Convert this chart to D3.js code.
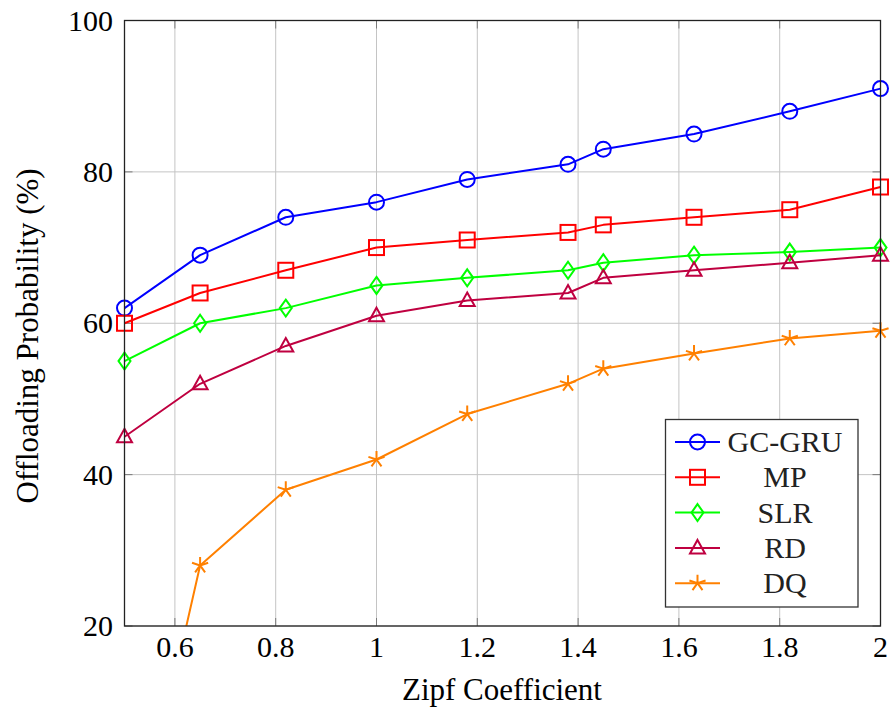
<!DOCTYPE html>
<html>
<head>
<meta charset="utf-8">
<script src="https://cdn.jsdelivr.net/npm/d3@7"></script>
</head>
<body style="margin:0">
<svg id="chart" width="891" height="709"></svg>
<script>
// values
const zipf = [0.5, 0.65, 0.82, 1, 1.18, 1.38, 1.45, 1.63, 1.82, 2];
const gcGru = [62, 69, 74, 76, 79, 81, 83, 85, 88, 91];
const mp = [60, 64, 67, 70, 71, 72, 73, 74, 75, 78];
const slr = [55, 60, 62, 65, 66, 67, 68, 69, 69.4, 70];
const rd = [45, 52, 57, 61, 63, 64, 66, 67, 68, 69];
const dq = [-16, 28, 38, 42, 48, 52, 54, 56, 58, 59];

const xTicks = [0.6, 0.8, 1, 1.2, 1.4, 1.6, 1.8, 2];
const yTicks = [20, 40, 60, 80, 100];

const seriesNames = ["GC-GRU", "MP", "SLR", "RD", "DQ"];
const seriesValues = [gcGru, mp, slr, rd, dq];
const seriesColors = ["#0000ff", "#ff0000", "#00ff00", "#bf0040", "#ff8000"];
const seriesMarks = ["circle", "square", "diamond", "triangle", "star"];

const svg = d3.select("#chart");

// plot area
const margin = { left: 124.5, right: 10.5, top: 20.5, bottom: 83 };
const width = 891, height = 709;
const innerW = width - margin.left - margin.right;
const innerH = height - margin.top - margin.bottom;

const x = d3.scaleLinear().domain([0.5, 2]).range([margin.left, margin.left + innerW]);
const y = d3.scaleLinear().domain([20, 100]).range([margin.top + innerH, margin.top]);

svg.append("defs").append("clipPath").attr("id", "plotclip")
   .append("rect")
   .attr("x", margin.left).attr("y", margin.top)
   .attr("width", innerW).attr("height", innerH);

// grid
const grid = svg.append("g").attr("stroke", "#c4c4c4").attr("stroke-width", 1);
grid.selectAll("line.vx")
    .data(xTicks)
    .enter().append("line")
    .attr("x1", d => x(d)).attr("x2", d => x(d))
    .attr("y1", y(20)).attr("y2", y(100));
grid.selectAll("line.hy")
    .data(yTicks)
    .enter().append("line")
    .attr("y1", d => y(d)).attr("y2", d => y(d))
    .attr("x1", x(0.5)).attr("x2", x(2));

// ticks on all four sides, pointing inward
const tickLen = 8;
const ticks = svg.append("g").attr("stroke", "#7a7a7a").attr("stroke-width", 1);
xTicks.forEach(t => {
  ticks.append("line").attr("x1", x(t)).attr("x2", x(t)).attr("y1", y(20)).attr("y2", y(20) - tickLen);
  ticks.append("line").attr("x1", x(t)).attr("x2", x(t)).attr("y1", y(100)).attr("y2", y(100) + tickLen);
});
yTicks.forEach(t => {
  ticks.append("line").attr("y1", y(t)).attr("y2", y(t)).attr("x1", x(0.5)).attr("x2", x(0.5) + tickLen);
  ticks.append("line").attr("y1", y(t)).attr("y2", y(t)).attr("x1", x(2)).attr("x2", x(2) - tickLen);
});

// serif labels
function label(sel, size) {
  return sel.style("font-family", d => '"Liberation Serif"').attr("font-size", size);
}

// tick labels
label(svg.append("g").selectAll("text")
   .data(xTicks)
   .enter().append("text")
   .attr("x", d => x(d))
   .attr("y", 657)
   .attr("text-anchor", "middle"), 30)
   .text(d => d3.format("~g")(d));

label(svg.append("g").selectAll("text")
   .data(yTicks)
   .enter().append("text")
   .attr("x", 113)
   .attr("y", d => y(d) + 10)
   .attr("text-anchor", "end"), 30)
   .text(d => d);

// axis labels
label(svg.append("text")
   .attr("x", 502).attr("y", 700)
   .attr("text-anchor", "middle"), 31)
   .text("Zipf Coefficient");

label(svg.append("text")
   .attr("transform", "translate(38,336) rotate(-90)")
   .attr("text-anchor", "middle"), 31)
   .text("Offloading Probability (%)");

// markers
function drawMark(g, type, cx, cy, color) {
  const s = g.append("g").attr("transform", `translate(${cx},${cy})`)
             .attr("fill", "none").attr("stroke", color).attr("stroke-width", 2);
  if (type === "circle") {
    s.append("circle").attr("r", 7.5);
  } else if (type === "square") {
    s.append("rect").attr("x", -7.5).attr("y", -7.5).attr("width", 15).attr("height", 15);
  } else if (type === "diamond") {
    s.append("path").attr("d", "M0,-8.5L6,0L0,8.5L-6,0Z");
  } else if (type === "triangle") {
    s.append("path").attr("d", "M0,-8L7.5,5.5L-7.5,5.5Z");
  } else if (type === "star") {
    let d = "";
    for (let k = 0; k < 5; k++) {
      const a = -Math.PI / 2 + k * 2 * Math.PI / 5;
      d += `M0,0L${(8.5 * Math.cos(a)).toFixed(2)},${(8.5 * Math.sin(a)).toFixed(2)}`;
    }
    s.append("path").attr("d", d);
  }
}

const line = d3.line().x(d => x(d[0])).y(d => y(d[1]));

seriesValues.forEach((vals, i) => {
  const pts = zipf.map((z, j) => [z, vals[j]]);
  svg.append("path")
     .attr("clip-path", "url(#plotclip)")
     .attr("d", line(pts))
     .attr("fill", "none")
     .attr("stroke", seriesColors[i])
     .attr("stroke-width", 2)
     .attr("stroke-linejoin", "round");
  const mg = svg.append("g");
  pts.filter(p => p[1] >= 20 && p[1] <= 100)
     .forEach(p => drawMark(mg, seriesMarks[i], x(p[0]), y(p[1]), seriesColors[i]));
});

// axis box
svg.append("rect")
   .attr("x", x(0.5)).attr("y", y(100))
   .attr("width", x(2) - x(0.5)).attr("height", y(20) - y(100))
   .attr("fill", "none").attr("stroke", "#222").attr("stroke-width", 1.3);

// legend
const leg = svg.append("g");
leg.append("rect")
   .attr("x", 665.5).attr("y", 419.5).attr("width", 192.5).attr("height", 187.5)
   .attr("fill", "#fff").attr("stroke", "#333").attr("stroke-width", 1.3);
seriesNames.forEach((name, i) => {
  const ly = 442 + i * 35.3;
  leg.append("line")
     .attr("x1", 675).attr("x2", 720).attr("y1", ly).attr("y2", ly)
     .attr("stroke", seriesColors[i]).attr("stroke-width", 2);
  drawMark(leg, seriesMarks[i], 697.5, ly, seriesColors[i]);
  label(leg.append("text")
     .attr("x", 785).attr("y", ly + 10)
     .attr("text-anchor", "middle"), 30)
     .attr("fill", "#222")
     .text(name);
});
</script>
</body>
</html>
